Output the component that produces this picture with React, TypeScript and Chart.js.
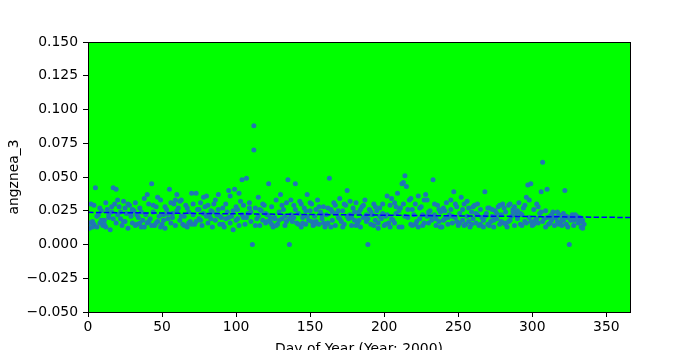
import React, { useEffect, useRef } from "react";
import { Chart, registerables } from "chart.js";

Chart.register(...registerables);

const FIRST_DAY = 1;
const xTickValues = [0, 50, 100, 150, 200, 250, 300, 350];
const xMin = 0;
const xMax = 366;
const yMin = -0.05;
const yMax = 0.15;
const yStep = 0.025;

// first observation per day (days 1..335)
const valuesA = [
  0.012, 0.030, 0.017, 0.015, 0.042, 0.013, 0.022, 0.016, 0.025, 0.014,
  0.018, 0.013, 0.026, 0.020, 0.011, 0.024, 0.042, 0.030, 0.041, 0.022,
  0.028, 0.019, 0.014, 0.032, 0.017, 0.023, 0.012, 0.029, 0.021, 0.016,
  0.025, 0.031, 0.015, 0.020, 0.027, 0.013, 0.018, 0.034, 0.022, 0.016,
  0.030, 0.019, 0.045, 0.024, 0.014, 0.028, 0.017, 0.021, 0.033, 0.015,
  0.022, 0.012, 0.026, 0.019, 0.041, 0.016, 0.023, 0.030, 0.014, 0.037,
  0.027, 0.018, 0.033, 0.015, 0.021, 0.029, 0.013, 0.024, 0.017, 0.038,
  0.022, 0.015, 0.038, 0.026, 0.019, 0.031, 0.014, 0.023, 0.028, 0.036,
  0.016, 0.021, 0.025, 0.013, 0.030, 0.018, 0.022, 0.037, 0.015, 0.020,
  0.027, 0.013, 0.019, 0.024, 0.040, 0.016, 0.021, 0.011, 0.041, 0.018,
  0.026, 0.014, 0.032, 0.048, 0.020, 0.015, 0.049, 0.023, 0.031, 0.017,
  0.000, 0.088, 0.027, 0.019, 0.035, 0.014, 0.025, 0.018, 0.029, 0.016,
  0.022, 0.045, 0.017, 0.028, 0.013, 0.020, 0.033, 0.015, 0.024, 0.037,
  0.019, 0.026, 0.014, 0.031, 0.048, 0.000, 0.022, 0.017, 0.029, 0.045,
  0.016, 0.023, 0.032, 0.013, 0.020, 0.027, 0.015, 0.037, 0.018, 0.025,
  0.030, 0.014, 0.021, 0.017, 0.033, 0.015, 0.024, 0.019, 0.028, 0.013,
  0.022, 0.016, 0.049, 0.026, 0.018, 0.031, 0.014, 0.023, 0.020, 0.034,
  0.017, 0.025, 0.015, 0.029, 0.040, 0.019, 0.022, 0.014, 0.027, 0.018,
  0.031, 0.016, 0.024, 0.013, 0.028, 0.020, 0.033, 0.017, 0.000, 0.026,
  0.015, 0.022, 0.030, 0.018, 0.025, 0.012, 0.027, 0.019, 0.023, 0.014,
  0.021, 0.036, 0.016, 0.029, 0.034, 0.018, 0.031, 0.023, 0.038, 0.013,
  0.027, 0.045, 0.046, 0.051, 0.043, 0.020, 0.033, 0.015, 0.026, 0.022,
  0.030, 0.017, 0.036, 0.019, 0.028, 0.014, 0.033, 0.037, 0.021, 0.016,
  0.025, 0.018, 0.048, 0.022, 0.014, 0.029, 0.017, 0.024, 0.013, 0.027,
  0.019, 0.031, 0.015, 0.022, 0.026, 0.016, 0.039, 0.020, 0.028, 0.014,
  0.023, 0.035, 0.018, 0.030, 0.015, 0.021, 0.027, 0.013, 0.024, 0.019,
  0.029, 0.016, 0.022, 0.014, 0.026, 0.020, 0.018, 0.039, 0.023, 0.015,
  0.027, 0.017, 0.021, 0.013, 0.025, 0.019, 0.028, 0.015, 0.022, 0.030,
  0.016, 0.024, 0.013, 0.029, 0.018, 0.021, 0.026, 0.014, 0.023, 0.019,
  0.031, 0.015, 0.022, 0.027, 0.017, 0.035, 0.044, 0.020, 0.045, 0.014,
  0.026, 0.018, 0.030, 0.016, 0.023, 0.039, 0.061, 0.019, 0.025, 0.041,
  0.015, 0.021, 0.018, 0.024, 0.014, 0.020, 0.017, 0.022, 0.016, 0.019,
  0.023, 0.040, 0.015, 0.020, 0.000, 0.018, 0.022, 0.014, 0.019, 0.021,
  0.016, 0.020, 0.013, 0.018, 0.015,
];

// second observation on some days (days 1..335, null = none)
const valuesB = [
  0.016, null, 0.013, 0.029, null, 0.021, null, 0.027, 0.018, null,
  0.015, 0.031, null, 0.022, null, 0.028, 0.019, null, 0.016, 0.033,
  null, 0.024, null, 0.017, 0.027, null, 0.030, null, 0.023, 0.026,
  null, 0.014, 0.022, null, 0.016, 0.024, null, 0.013, null, 0.037,
  0.017, null, 0.014, 0.029, null, 0.016, 0.035, null, 0.013, null,
  0.018, 0.028, null, 0.023, null, 0.031, 0.020, null, 0.033, 0.025,
  null, 0.032, 0.021, null, 0.014, null, 0.027, 0.016, null, 0.015,
  0.030, null, 0.017, null, 0.026, 0.018, null, 0.035, null, 0.021,
  0.029, null, 0.019, 0.024, null, 0.033, null, 0.026, 0.021, null,
  0.015, null, 0.030, null, 0.020, 0.036, null, 0.025, null, 0.028,
  0.019, 0.038, null, 0.022, 0.029, null, 0.020, null, 0.027, 0.024,
  null, 0.070, 0.014, null, 0.021, 0.026, null, 0.030, null, 0.023,
  0.017, null, 0.020, 0.015, null, 0.019, 0.014, null, 0.018, null,
  0.029, null, 0.021, 0.017, null, 0.019, 0.033, null, 0.020, 0.026,
  null, 0.015, null, 0.030, 0.016, null, 0.025, 0.021, null, 0.031,
  0.017, null, 0.015, 0.026, null, 0.028, null, 0.022, 0.016, null,
  0.015, 0.027, null, 0.013, 0.024, null, 0.029, null, 0.025, 0.019,
  null, 0.013, 0.030, null, 0.021, null, 0.032, 0.020, null, 0.024,
  0.014, null, 0.018, 0.026, null, 0.029, null, 0.022, 0.019, null,
  0.024, null, 0.014, 0.028, null, 0.016, 0.021, null, 0.030, null,
  0.015, 0.022, null, 0.013, 0.019, null, 0.016, 0.028, null, 0.025,
  null, 0.013, 0.030, 0.021, null, 0.026, null, 0.034, 0.014, null,
  0.015, null, 0.013, 0.027, null, 0.022, 0.016, null, 0.033, 0.024,
  null, 0.021, null, 0.030, 0.019, null, 0.026, 0.013, null, 0.018,
  0.025, null, 0.020, null, 0.033, 0.021, null, 0.030, 0.017, null,
  0.016, null, 0.026, 0.014, null, 0.032, 0.017, null, 0.015, 0.028,
  null, 0.023, 0.030, null, 0.015, null, 0.013, 0.021, null, 0.027,
  0.014, null, 0.026, 0.018, null, 0.023, null, 0.029, 0.017, null,
  0.027, 0.015, null, 0.017, 0.030, null, 0.024, 0.028, null, 0.025,
  null, 0.023, 0.014, null, 0.029, 0.016, null, 0.033, 0.017, null,
  0.015, null, 0.019, 0.028, null, 0.024, 0.017, null, 0.013, 0.020,
  null, 0.016, 0.022, null, 0.020, null, 0.024, 0.015, null, 0.014,
  0.018, null, 0.021, 0.013, null, 0.020, null, 0.018, 0.022, null,
  0.019, null, 0.017, 0.012, null,
];

// fitted trend line endpoints
const trendDays = [0, 366];
const trendValues = [0.0238, 0.0200];

const FONT = "'DejaVu Sans', sans-serif";

function fmtY(v: number): string {
  const r = Math.round(v * 1000) / 1000;
  if (r === 0) return "0.000";
  return (r < 0 ? "\u2212" : "") + Math.abs(r).toFixed(3);
}

const framePlugin = {
  id: "frame",
  beforeDraw(chart: any) {
    const { ctx, chartArea } = chart;
    ctx.save();
    ctx.fillStyle = "#00ff00";
    ctx.fillRect(chartArea.left, chartArea.top, chartArea.right - chartArea.left, chartArea.bottom - chartArea.top);
    ctx.restore();
  },
  afterDatasetsDraw(chart: any) {
    const { ctx, chartArea } = chart;
    const x0 = Math.round(chartArea.left) + 0.5;
    const x1 = Math.round(chartArea.right) + 0.5;
    const y0 = Math.round(chartArea.top) + 0.5;
    const y1 = Math.round(chartArea.bottom) + 0.5;
    ctx.save();
    ctx.strokeStyle = "#000";
    ctx.lineWidth = 1;
    ctx.strokeRect(x0, y0, x1 - x0, y1 - y0);
    ctx.restore();
  },
};

export default function App() {
  const ref = useRef<HTMLCanvasElement | null>(null);

  useEffect(() => {
    if (!ref.current) return;
    Chart.defaults.color = "#000";
    Chart.defaults.font.family = FONT;

    const scatterPts: { x: number; y: number }[] = [];
    valuesA.forEach((v, i) => scatterPts.push({ x: FIRST_DAY + i, y: v }));
    valuesB.forEach((v, i) => {
      if (v !== null) scatterPts.push({ x: FIRST_DAY + i, y: v });
    });
    const trendPts = trendDays.map((d, i) => ({ x: d, y: trendValues[i] }));

    const chart = new Chart(ref.current, {
      type: "scatter",
      data: {
        datasets: [
          {
            type: "line",
            data: trendPts,
            borderColor: "#0000ff",
            borderWidth: 1.5,
            borderDash: [5.5, 2.4],
            pointRadius: 0,
            fill: false,
            showLine: true,
          } as any,
          {
            data: scatterPts,
            backgroundColor: "#1f77b4",
            borderColor: "#1f77b4",
            borderWidth: 0,
            pointRadius: 2.5,
            pointStyle: "circle",
          },
        ],
      },
      options: {
        responsive: false,
        animation: false,
        events: [],
        layout: { padding: { left: 0, right: 70, top: 42, bottom: 0 } },
        plugins: { legend: { display: false }, tooltip: { enabled: false } },
        scales: {
          x: {
            type: "linear",
            min: xMin,
            max: xMax,
            afterBuildTicks: (scale: any) => {
              scale.ticks = xTickValues.map((v) => ({ value: v }));
            },
            afterFit: (scale: any) => {
              scale.height = 38;
            },
            grid: {
              drawOnChartArea: false,
              drawTicks: true,
              tickLength: 5,
              tickColor: "#000",
              tickWidth: 1,
            },
            border: { display: false },
            ticks: {
              padding: 2,
              maxRotation: 0,
              font: { size: 13.9, family: FONT },
              color: "#000",
              callback: (v: any) => String(v),
            },
            title: {
              display: true,
              text: "Day of Year (Year: 2000)",
              font: { size: 13.9, family: FONT },
              color: "#000",
              padding: { top: 0, bottom: -8 },
            },
          },
          y: {
            type: "linear",
            min: yMin,
            max: yMax,
            ticks: {
              stepSize: yStep,
              padding: 5,
              font: { size: 13.9, family: FONT },
              color: "#000",
              callback: (v: any) => fmtY(Number(v)),
            },
            afterFit: (scale: any) => {
              scale.width = 88;
            },
            grid: {
              drawOnChartArea: false,
              drawTicks: true,
              tickLength: 5,
              tickColor: "#000",
              tickWidth: 1,
            },
            border: { display: false },
            title: {
              display: true,
              text: "angznea_3",
              font: { size: 13.9, family: FONT },
              color: "#000",
              padding: { top: 6, bottom: 0 },
            },
          },
        },
      },
      plugins: [framePlugin],
    });

    return () => chart.destroy();
  }, []);

  return (
    <div style={{ position: "absolute", left: 0, top: 0, width: 700, height: 350, background: "#fff" }}>
      <canvas ref={ref} width={700} height={350} style={{ display: "block", width: 700, height: 350 }} />
    </div>
  );
}
